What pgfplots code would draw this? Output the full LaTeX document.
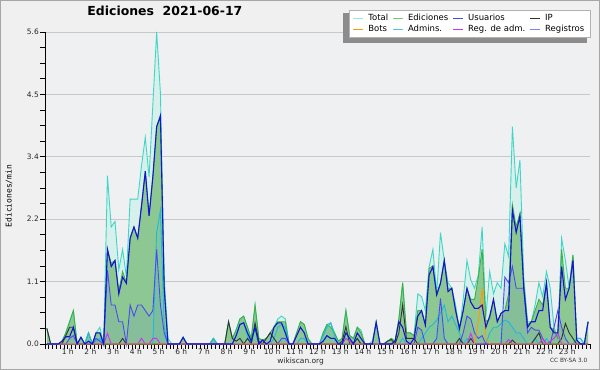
\documentclass[border=0pt]{standalone}
\usepackage{fontspec}
\setmainfont{DejaVu Sans}
\newfontfamily\monofont{DejaVu Sans Mono}
\usepackage{pgfplots}
\usepackage{pgfplotstable}
\pgfplotsset{compat=1.18}
\definecolor{bgout}{HTML}{F0F0F0}
\definecolor{bgin}{HTML}{EEF0F2}
\definecolor{totline}{HTML}{3ED6C6}
\definecolor{totfill}{HTML}{D8F0EB}
\definecolor{edline}{HTML}{3DB043}
\definecolor{edfill}{HTML}{8DC893}
\definecolor{usline}{HTML}{1414D2}
\definecolor{ipline}{HTML}{333333}
\definecolor{botline}{HTML}{FF9A00}
\definecolor{admline}{HTML}{22B8DC}
\definecolor{radline}{HTML}{CC33EE}
\definecolor{regline}{HTML}{4A4AF2}
\definecolor{gridc}{HTML}{C8C8C8}

% k = 10-minute bin, T Total, E Ediciones, U Usuarios, R Registros, A Admins, I IP, M Reg. de adm., B Bots
\pgfplotstableread{
k T E U R A I M B
0 0.28 0.28 0 0 0 0.28 0 0
1 0 0 0 0 0 0 0 0
2 0 0 0 0 0 0 0 0
3 0 0 0 0 0 0 0 0
4 0.05 0.05 0.05 0 0 0 0 0
5 0.2 0.2 0.13 0 0 0.15 0 0
6 0.4 0.4 0.13 0.1 0 0.3 0 0
7 0.6 0.6 0.3 0.15 0 0.3 0 0
8 0 0 0 0 0 0 0 0
9 0.12 0.12 0.12 0 0 0 0 0
10 0 0 0 0 0 0 0 0
11 0.2 0.2 0.05 0 0.2 0 0 0
12 0 0 0 0 0 0 0 0
13 0.2 0.2 0.2 0.1 0.05 0 0 0
14 0.3 0.2 0.2 0.05 0.1 0 0 0
15 0 0 0 0 0 0 0 0
16 3.02 1.7 1.7 1.33 0 0 0.19 0
17 2.1 1.45 1.39 0.7 0 0 0 0
18 2.2 1.5 1.5 0.7 0 0 0 0
19 1.33 0.95 0.9 0.4 0 0 0 0
20 1.7 1.3 1.2 0.4 0 0.1 0 0
21 1.21 1.1 1.09 0 0 0 0 0
22 2.6 1.9 1.9 0.7 0 0 0 0
23 2.6 2.1 2.1 0.5 0 0 0 0
24 2.6 1.9 1.9 0.7 0 0 0 0
25 3.2 2.5 2.47 0.7 0 0 0.1 0
26 3.71 3.1 3.1 0.6 0 0 0 0
27 3.0 2.3 2.3 0.5 0 0 0 0
28 4.3 3.0 3.0 0.6 0 0 0.1 0
29 5.6 3.9 3.9 1.7 2.0 0 0.1 0
30 4.5 4.05 4.1 0.7 2.4 0 0 0
31 1.2 1.0 1.0 0.2 0.3 0 0 0
32 0.1 0 0 0 0 0 0 0
33 0 0 0 0 0 0 0 0
34 0 0 0 0 0 0 0 0
35 0 0 0 0 0 0 0 0
36 0.12 0.12 0.12 0 0 0 0 0
37 0 0 0 0 0 0 0 0
38 0 0 0 0 0 0 0 0
39 0 0 0 0 0 0 0 0
40 0 0 0 0 0 0 0 0
41 0 0 0 0 0 0 0 0
42 0 0 0 0 0 0 0 0
43 0 0 0 0 0 0 0 0
44 0.1 0.1 0 0 0.1 0 0 0
45 0 0 0 0 0 0 0 0
46 0 0 0 0 0 0 0 0
47 0 0 0 0 0 0 0 0
48 0.4 0.4 0 0 0 0.4 0 0
49 0.1 0.1 0 0 0 0.1 0 0
50 0.25 0.25 0.15 0 0.15 0.05 0 0
51 0.45 0.45 0.35 0 0.35 0.1 0 0
52 0.5 0.5 0.38 0 0.38 0 0 0
53 0.3 0.3 0.2 0 0.15 0.1 0 0
54 0.1 0.1 0.05 0 0 0 0 0
55 0.7 0.7 0.3 0 0.3 0.38 0 0
56 0.1 0.1 0 0 0 0.05 0 0
57 0.07 0.07 0.07 0 0 0 0 0
58 0.1 0.1 0 0 0 0.1 0 0
59 0.2 0.2 0.05 0 0 0.2 0 0
60 0.3 0.3 0.3 0 0.1 0.1 0 0
61 0.45 0.4 0.38 0 0.3 0 0 0
62 0.5 0.4 0.38 0.1 0.35 0 0 0
63 0.45 0.4 0.2 0.1 0.3 0 0 0
64 0 0 0 0 0 0 0 0
65 0 0 0 0 0 0 0 0
66 0.2 0.2 0.15 0 0 0 0 0
67 0.4 0.4 0.3 0 0.1 0 0 0
68 0.35 0.35 0.2 0 0.1 0 0 0
69 0.1 0.1 0 0 0 0 0 0
70 0 0 0 0 0 0 0 0
71 0 0 0 0 0 0 0 0
72 0 0 0 0 0 0 0 0
73 0.2 0.2 0.05 0 0.15 0 0 0
74 0.35 0.35 0.15 0 0.3 0 0 0
75 0.38 0.3 0.1 0 0.38 0 0 0
76 0.2 0.2 0.1 0 0.15 0 0 0
77 0.05 0.05 0 0 0 0 0 0
78 0.1 0.1 0 0 0 0.05 0 0
79 0.6 0.6 0.2 0 0 0.31 0.1 0
80 0.15 0.15 0.1 0 0 0 0.05 0
81 0.1 0.1 0 0 0 0 0 0
82 0.3 0.3 0.2 0 0.1 0.1 0 0
83 0.25 0.2 0.1 0 0 0 0 0
84 0 0 0 0 0 0 0 0
85 0 0 0 0 0 0 0 0
86 0.05 0 0 0 0 0 0 0
87 0.39 0.39 0.39 0 0 0 0 0
88 0 0 0 0 0 0 0 0
89 0 0 0 0 0 0 0 0
90 0.05 0.05 0 0 0 0.05 0 0
91 0.1 0.1 0 0 0 0.08 0 0
92 0.05 0.05 0.05 0 0 0 0 0
93 0.45 0.45 0.4 0 0 0.2 0 0
94 1.1 1.1 0.3 0 0.1 0.7 0 0
95 0.2 0.2 0.05 0 0 0.1 0 0
96 0.2 0.2 0 0 0 0.1 0 0
97 0.15 0.15 0.1 0 0 0.1 0 0
98 0.9 0.6 0.5 0.3 0 0 0 0
99 0.85 0.6 0.6 0.25 0.1 0 0 0
100 0.6 0.35 0.34 0 0.2 0 0 0
101 1.39 1.36 1.24 0 0.3 0 0 0
102 1.7 1.4 1.39 0 0.35 0 0 0
103 0.9 0.9 0.88 0.1 0.43 0 0 0
104 2.0 1.1 1.09 0.82 0.55 0 0 0
105 1.5 1.5 1.5 0.1 0.7 0 0 0
106 1.1 1.0 0.94 0 0.4 0 0 0
107 1.0 1.0 1.0 0 0.5 0 0 0
108 0.7 0.6 0.6 0 0.35 0 0 0
109 0.25 0.25 0.28 0 0.2 0.1 0 0
110 0.8 0.6 0.6 0.2 0 0 0 0
111 1.5 1.0 1.0 0.5 0.1 0 0 0
112 1.15 0.8 0.75 0.45 0 0.1 0.19 0
113 1.0 0.8 0.64 0.2 0 0 0 0
114 1.24 1.2 0.64 0.1 0 0 0 0.4
115 2.1 1.7 0.7 0.15 0 0 0 1.0
116 0.5 0.4 0.3 0 0 0 0 0.1
117 1.3 0.45 0.5 0 0.2 0 0 0
118 0.9 0.8 0.8 0 0.3 0 0 0
119 1.1 0.4 0.4 0 0.3 0 0 0
120 1.0 0.55 0.55 0 0.37 0 0 0
121 1.8 0.6 0.6 1.2 0.43 0 0 0
122 1.57 0.9 0.6 1.1 0.4 0 0.08 0
123 3.9 2.5 2.4 1.39 0.3 0.07 0 0
124 2.8 2.1 2.0 1.0 0.2 0 0 0
125 3.3 2.35 2.3 1.0 0.2 0 0 0
126 1.2 1.1 1.0 1.0 0.1 0 0 0
127 0.4 0.35 0.3 0.2 0 0 0 0
128 0.4 0.4 0.4 0.3 0 0 0 0
129 0.7 0.6 0.4 0.25 0.1 0.1 0 0
130 1.1 0.8 0.6 0.25 0 0.2 0 0
131 0.85 0.7 0.6 0.1 0 0 0.1 0
132 1.3 1.1 1.1 0 0.1 0 0 0
133 1.0 0.3 0.3 0 0 0 0.05 0
134 0.3 0.25 0.2 0.3 0 0 0.1 0
135 0.1 0.1 0.2 0.6 0 0 0.2 0
136 1.9 1.7 1.39 0.3 0 0.1 0 0
137 1.5 1.0 0.8 0.1 0 0.37 0 0
138 1.0 1.0 1.0 0 0 0.2 0 0
139 1.6 1.6 1.5 0 0 0.1 0 0
140 0.1 0.07 0.07 0 0.1 0 0 0
141 0.1 0 0 0 0.1 0 0 0
142 0 0 0 0 0 0 0 0
143 0.4 0.4 0.4 0 0 0 0 0
}\data

\begin{document}
\begin{tikzpicture}
\fill[bgout] (0,0) rectangle (600bp,370bp);
\begin{axis}[
  at={(45bp,26bp)}, anchor=south west,
  scale only axis, width=545bp, height=312bp,
  xmin=0, xmax=24, ymin=0, ymax=5.6,
  clip=false,
  axis background/.style={fill=bgin},
  axis x line*=bottom, axis y line*=left,
  axis line style={-, line width=0.8bp, black},
  xtick={0,...,24},
  xticklabels={,1 h,2 h,3 h,4 h,5 h,6 h,7 h,8 h,9 h,10 h,11 h,12 h,13 h,14 h,15 h,16 h,17 h,18 h,19 h,20 h,21 h,22 h,23 h,},
  minor x tick num=5,
  ytick={0,1.12,2.24,3.36,4.48,5.6},
  yticklabels={0.0,1.1,2.2,3.4,4.5,5.6},
  minor y tick num=3,
  tick align=outside,
  major tick length=5bp, minor tick length=4.5bp,
  tick style={black, line width=0.7bp},
  ymajorgrids, grid style={gridc, line width=0.8bp},
  ticklabel style={font=\fontsize{7.5}{8}\selectfont, text=black!85},
  xticklabel style={inner sep=1bp, yshift=1bp},
  yticklabel style={inner sep=1bp},
  title={Ediciones\ \ 2021-06-17},
  title style={at={(axis description cs:0.22,1.048)}, anchor=center, font=\fontsize{12.5}{14}\selectfont\bfseries},
  ylabel={Ediciones/min},
  ylabel style={at={(axis description cs:-0.066,0.474)}, anchor=center, font=\monofont\fontsize{8}{9}\selectfont},
  legend columns=4, legend cell align=left,
  legend image code/.code={\draw[#1] (0bp,0bp) -- (10bp,0bp);},
  legend style={at={(axis description cs:1.002,1.0705)}, anchor=north east,
    draw=gray!60, fill=white, line width=0.6bp, inner xsep=4bp, inner ysep=2.8bp,
    font=\fontsize{8.5}{10}\selectfont,
    /tikz/every odd column/.style={column sep=2bp},
    /tikz/every even column/.style={column sep=2bp},
    nodes={inner xsep=2.5bp, inner ysep=1.2bp, text height=6.5bp, text depth=1.8bp}},
]
\addlegendimage{color=totline!55, line width=0.9bp}\addlegendentry{Total}
\addlegendimage{color=edline!70, line width=0.9bp}\addlegendentry{Ediciones}
\addlegendimage{color=regline, line width=0.9bp}\addlegendentry{Usuarios}
\addlegendimage{color=ipline, line width=0.9bp}\addlegendentry{IP}
\addlegendimage{color=botline, line width=0.9bp}\addlegendentry{Bots}
\addlegendimage{color=admline!80, line width=0.9bp}\addlegendentry{Admins.}
\addlegendimage{color=radline, line width=0.9bp}\addlegendentry{Reg. de adm.}
\addlegendimage{color=regline!70, line width=0.9bp}\addlegendentry{Registros}

% Total
\addplot[draw=none, fill=totfill, forget plot] table[x expr=(\thisrow{k}+0.5)/6, y=T]{\data} \closedcycle;
% Ediciones
\addplot[draw=none, fill=edfill, forget plot] table[x expr=(\thisrow{k}+0.5)/6, y=E]{\data} \closedcycle;
% Registros / Admins light fills
\addplot[draw=none, fill=regline, fill opacity=0.08, forget plot] table[x expr=(\thisrow{k}+0.5)/6, y=R]{\data} \closedcycle;
\addplot[draw=none, fill=admline, fill opacity=0.10, forget plot] table[x expr=(\thisrow{k}+0.5)/6, y=A]{\data} \closedcycle;
% lines
\addplot[color=totline, line width=0.9bp, forget plot] table[x expr=(\thisrow{k}+0.5)/6, y=T]{\data};
\addplot[color=edline, line width=0.9bp, forget plot] table[x expr=(\thisrow{k}+0.5)/6, y=E]{\data};
\addplot[color=admline, line width=0.9bp, forget plot] table[x expr=(\thisrow{k}+0.5)/6, y=A]{\data};
\addplot[color=regline, line width=0.9bp, forget plot] table[x expr=(\thisrow{k}+0.5)/6, y=R]{\data};
\addplot[color=ipline, line width=0.9bp, forget plot] table[x expr=(\thisrow{k}+0.5)/6, y=I]{\data};
\addplot[color=radline, line width=0.9bp, forget plot] table[x expr=(\thisrow{k}+0.5)/6, y=M]{\data};
\addplot[color=botline, line width=0.9bp, forget plot] table[x expr=(\thisrow{k}+0.5)/6, y=B]{\data};
\addplot[color=usline, line width=1.1bp, forget plot] table[x expr=(\thisrow{k}+0.5)/6, y=U]{\data};

% legend shadow (drawn before the legend, which pgfplots draws last)
\fill[black!45] (axis description cs:0.5468,0.966) rectangle (axis description cs:0.9945,1.0609);

\node[font=\fontsize{7.5}{8}\selectfont, text=black!85] at (axis description cs:0.469,-0.056) {wikiscan.org};
\node[font=\fontsize{5.8}{7}\selectfont, text=black!80] at (axis description cs:0.961,-0.054) {CC BY-SA 3.0};
\end{axis}
\draw[gray!70, line width=1bp] (0.5bp,0.5bp) rectangle (599.5bp,369.5bp);
\pgfresetboundingbox
\path (0,0) rectangle (600bp,370bp);
\end{tikzpicture}
\end{document}
